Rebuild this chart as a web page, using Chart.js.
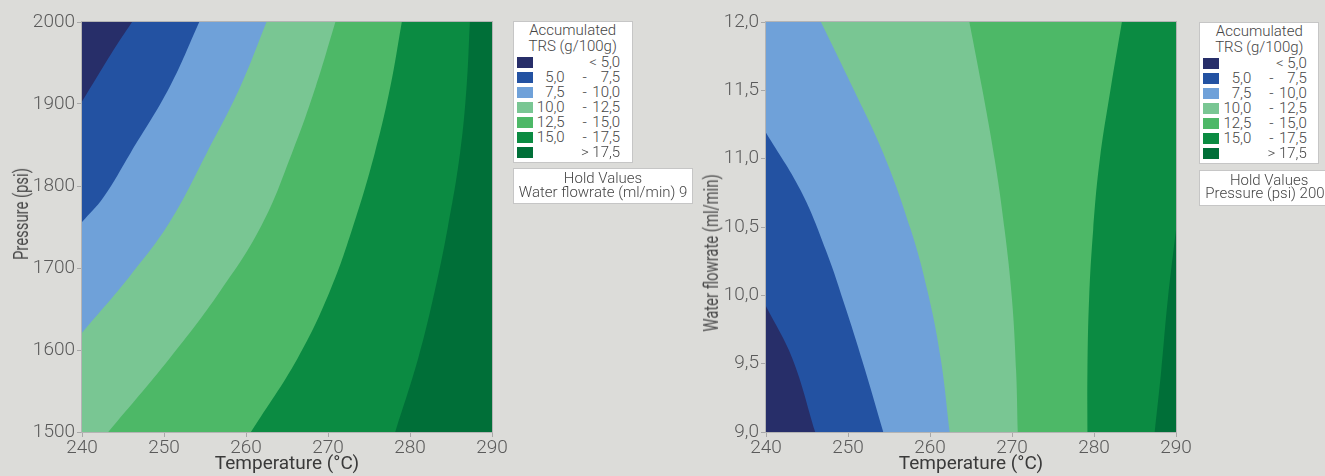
<!DOCTYPE html>
<html>
<head>
<meta charset="utf-8">
<title>Accumulated TRS contour plots</title>
<script src="https://cdn.jsdelivr.net/npm/chart.js@4.4.1/dist/chart.umd.min.js"></script>
<style>
  html, body { margin: 0; padding: 0; background: #dcdcd9; }
  body { width: 1325px; height: 476px; position: relative; overflow: hidden;
         font-family: Roboto, "Noto Sans", sans-serif; color: #454545; }
  canvas { position: absolute; top: 0; }
  .ytitle { position: absolute; white-space: nowrap; font-size: 19.5px; font-weight: 400; color: #4a4a4a;
            line-height: 20px; transform: translate(-50%, -50%) rotate(-90deg) scaleX(0.76); }
  .legend { position: absolute; width: 120px; height: 142px; box-sizing: border-box;
            background: #fff; border: 1.5px solid #c6c6c6; font-size: 15px; font-weight: 300; }
  .legend .lt { position: absolute; left: 0; top: 0; width: 100%; text-align: center; line-height: 16px; }
  .legend .row { position: absolute; left: 0; width: 100%; height: 15px; line-height: 15px; white-space: nowrap; }
  .legend .sw { position: absolute; left: 3px; top: 2px; width: 16px; height: 11px; }
  .legend .lo { position: absolute; left: 0; width: 51px; text-align: right; }
  .legend .da { position: absolute; left: 65px; width: 12px; text-align: center; }
  .legend .hi { position: absolute; left: 56px; width: 50.5px; text-align: right; }
  .hold { position: absolute; box-sizing: border-box; background: #fff; border: 1.5px solid #c6c6c6;
          padding: 3px 5px 4px; font-size: 15px; font-weight: 300; line-height: 13.5px;
          text-align: center; white-space: nowrap; }
</style>
</head>
<body>
<canvas id="pressureChart" width="520" height="476" style="left:0px"></canvas>
<canvas id="flowChart" width="520" height="476" style="left:680px"></canvas>
<script>
// Axis ticks
const temperatureTicks = [240, 250, 260, 270, 280, 290];
const pressureTicks = [1500, 1600, 1700, 1800, 1900, 2000];
const flowTicks = [9.0, 9.5, 10.0, 10.5, 11.0, 11.5, 12.0];

// Accumulated TRS contour levels (g/100g)
const trsLevels = [5.0, 7.5, 10.0, 12.5, 15.0, 17.5];

// Held factor values
const heldFlowrate = 9;
const heldPressure = 2000;

// Contour lines, [temperature °C, pressure psi], water flowrate held at 9 ml/min
const pressureContour5_0 = [[240, 1903], [243.6, 1962], [246.1, 2000]];
const pressureContour7_5 = [[240, 1756], [242.6, 1786], [245.9, 1840], [250.7, 1921], [254.3, 2000]];
const pressureContour10_0 = [[240, 1621], [245.9, 1691], [250.7, 1756], [255.2, 1840], [259.3, 1921], [262.5, 2000]];
const pressureContour12_5 = [[243.2, 1500], [250.7, 1590], [256.8, 1671], [261.9, 1752], [265.6, 1840], [268.5, 1921], [270.9, 2000]];
const pressureContour15_0 = [[260.6, 1500], [266.3, 1590], [270.2, 1671], [273.0, 1749], [275.7, 1840], [277.6, 1921], [279.0, 2000]];
const pressureContour17_5 = [[278.2, 1500], [281.0, 1590], [283.0, 1671], [284.6, 1749], [286.1, 1840], [286.9, 1921], [287.3, 2000]];

// Contour lines, [temperature °C, water flowrate ml/min], pressure held at 2000 psi
const flowContour5_0 = [[240, 9.92], [243.2, 9.54], [246.0, 9.0]];
const flowContour7_5 = [[240, 11.19], [244.2, 10.77], [247.3, 10.33], [249.8, 9.89], [252.1, 9.45], [254.3, 9.0]];
const flowContour10_0 = [[246.7, 12.0], [250.5, 11.53], [254.3, 11.04], [257.6, 10.49], [259.7, 10.03], [261.3, 9.54], [262.4, 9.0]];
const flowContour12_5 = [[264.8, 12.0], [266.4, 11.50], [267.9, 10.99], [269.1, 10.48], [270.0, 9.97], [270.5, 9.45], [270.7, 9.0]];
const flowContour15_0 = [[283.4, 12.0], [282.0, 11.50], [280.7, 10.99], [279.9, 10.48], [279.4, 9.97], [279.2, 9.45], [279.2, 9.0]];
const flowContour17_5 = [[290, 10.48], [289.0, 9.97], [288.2, 9.45], [287.4, 9.0]];

// Band fills, lowest band first
const bandColors = ['#272e69', '#2352a2', '#6fa1d9', '#79c693', '#4db867', '#0b8b42', '#006f38'];

const fmt = v => v.toFixed(1).replace('.', ',');

// Position of a frame point along the rectangle perimeter
// (0: bottom-left, 1: top-left, 2: top-right, 3: bottom-right)
function perimeterPos(p, x0, x1, y0, y1) {
  const [x, y] = p, e = 1e-9;
  if (Math.abs(x - x0) < e) return (y - y0) / (y1 - y0);
  if (Math.abs(y - y1) < e) return 1 + (x - x0) / (x1 - x0);
  if (Math.abs(x - x1) < e) return 2 + (y1 - y) / (y1 - y0);
  return 3 + (x1 - x) / (x1 - x0);
}

// Closes a contour line along the plot frame around the side holding
// the higher values (which contains the bottom-right corner).
function superLevelPolygon(curve, xr, yr) {
  const [x0, x1] = xr, [y0, y1] = yr;
  const corners = [[x0, y0], [x0, y1], [x1, y1], [x1, y0]];
  const sEnd = perimeterPos(curve[curve.length - 1], x0, x1, y0, y1);
  const sStart = perimeterPos(curve[0], x0, x1, y0, y1);
  let walk = [];
  let t = sStart; if (t <= sEnd) t += 4;
  for (let k = Math.floor(sEnd) + 1; k < t; k++) walk.push(k % 4);
  if (!walk.includes(3)) {
    walk = [];
    let t2 = sStart; if (t2 >= sEnd) t2 -= 4;
    for (let k = Math.ceil(sEnd) - 1; k > t2; k--) walk.push(((k % 4) + 4) % 4);
  }
  // Repeated vertices keep the frame edges straight while the contour stays smooth
  const pts = [...curve, curve[curve.length - 1]];
  walk.forEach(k => { pts.push(corners[k], corners[k]); });
  return pts.map(([x, y]) => ({ x, y }));
}

const plotFrame = {
  id: 'plotFrame',
  beforeDatasetsDraw(chart) {
    const { ctx, chartArea: a } = chart;
    ctx.save();
    ctx.fillStyle = bandColors[0];
    ctx.fillRect(a.left, a.top, a.width, a.height);
    ctx.restore();
  },
  afterDatasetsDraw(chart) {
    const { ctx, chartArea: a } = chart;
    ctx.save();
    ctx.strokeStyle = '#b4b4b4';
    ctx.lineWidth = 1;
    ctx.strokeRect(a.left - 0.5, a.top - 0.5, a.width + 1, a.height + 1);
    ctx.restore();
  }
};

function makeContourChart(canvasId, contours, yTicks, yLabel, yAxisWidth) {
  const xr = [temperatureTicks[0], temperatureTicks[temperatureTicks.length - 1]];
  const yr = [yTicks[0], yTicks[yTicks.length - 1]];
  const datasets = contours.map((curve, i) => ({
    label: fmt(trsLevels[i]),
    data: superLevelPolygon(curve, xr, yr),
    fill: 'shape',
    backgroundColor: bandColors[i + 1],
    borderWidth: 0,
    pointRadius: 0,
    tension: 0.4,
    order: contours.length - i
  }));
  const tickFont = { family: 'Roboto', size: 19, weight: 300 };
  const axisGrid = { display: true, drawOnChartArea: false, drawTicks: true, tickLength: 5, color: '#a8a8a8', lineWidth: 1 };
  return new Chart(document.getElementById(canvasId), {
    type: 'line',
    data: { datasets },
    plugins: [plotFrame],
    options: {
      responsive: false,
      animation: false,
      events: [],
      layout: { padding: { left: 0, right: 520 - yAxisWidth - 410, top: 22, bottom: 0 } },
      plugins: { legend: { display: false }, tooltip: { enabled: false } },
      scales: {
        x: {
          type: 'linear', min: xr[0], max: xr[1],
          afterBuildTicks: s => { s.ticks = temperatureTicks.map(v => ({ value: v })); },
          afterFit: s => { s.height = 44; s.paddingLeft = 0; s.paddingRight = 0; },
          ticks: { font: tickFont, color: '#5a5a5a', padding: 0, maxRotation: 0, autoSkip: false,
                   callback: v => String(v) },
          grid: axisGrid,
          border: { display: false },
          title: { display: true, text: 'Temperature (°C)', color: '#3a3a3a',
                   font: { family: 'Roboto', size: 19 }, padding: { top: 0, bottom: 0 } }
        },
        y: {
          type: 'linear', min: yr[0], max: yr[1],
          afterBuildTicks: s => { s.ticks = yTicks.map(v => ({ value: v })); },
          afterFit: s => { s.width = yAxisWidth; s.paddingTop = 0; s.paddingBottom = 0; },
          ticks: { font: tickFont, color: '#5a5a5a', padding: 2, autoSkip: false, callback: yLabel },
          grid: axisGrid,
          border: { display: false }
        }
      }
    }
  });
}

makeContourChart('pressureChart',
  [pressureContour5_0, pressureContour7_5, pressureContour10_0, pressureContour12_5, pressureContour15_0, pressureContour17_5],
  pressureTicks, v => String(v), 82);

makeContourChart('flowChart',
  [flowContour5_0, flowContour7_5, flowContour10_0, flowContour12_5, flowContour15_0, flowContour17_5],
  flowTicks, v => fmt(v), 86);

// Rotated axis titles
function yTitle(text, cx, cy) {
  const el = document.createElement('div');
  el.className = 'ytitle';
  el.textContent = text;
  el.style.left = cx + 'px';
  el.style.top = cy + 'px';
  document.body.appendChild(el);
}
yTitle('Pressure (psi)', 21.5, 214);
yTitle('Water flowrate (ml/min)', 711.5, 253);

// Legend boxes
function legendBox(left, top) {
  const box = document.createElement('div');
  box.className = 'legend';
  box.style.left = left + 'px';
  box.style.top = top + 'px';
  const t = document.createElement('div');
  t.className = 'lt';
  t.innerHTML = 'Accumulated<br>TRS (g/100g)';
  box.appendChild(t);
  for (let i = 0; i <= trsLevels.length; i++) {
    const row = document.createElement('div');
    row.className = 'row';
    row.style.top = (32.8 + 15.05 * i) + 'px';
    const sw = document.createElement('div');
    sw.className = 'sw';
    sw.style.background = bandColors[i];
    row.appendChild(sw);
    const add = (cls, txt) => { const s = document.createElement('span'); s.className = cls; s.textContent = txt; row.appendChild(s); };
    if (i === 0) add('hi', '< ' + fmt(trsLevels[0]));
    else if (i === trsLevels.length) add('hi', '> ' + fmt(trsLevels[trsLevels.length - 1]));
    else { add('lo', fmt(trsLevels[i - 1])); add('da', '-'); add('hi', fmt(trsLevels[i])); }
    box.appendChild(row);
  }
  document.body.appendChild(box);
}
function holdBox(left, top, text) {
  const box = document.createElement('div');
  box.className = 'hold';
  box.style.left = left + 'px';
  box.style.top = top + 'px';
  box.innerHTML = 'Hold Values<br>' + text;
  document.body.appendChild(box);
}
legendBox(512.7, 21);
holdBox(512.7, 168, 'Water flowrate (ml/min) ' + heldFlowrate);
legendBox(1199.3, 22.3);
holdBox(1199.3, 169.5, 'Pressure (psi) ' + heldPressure);
</script>
</body>
</html>
